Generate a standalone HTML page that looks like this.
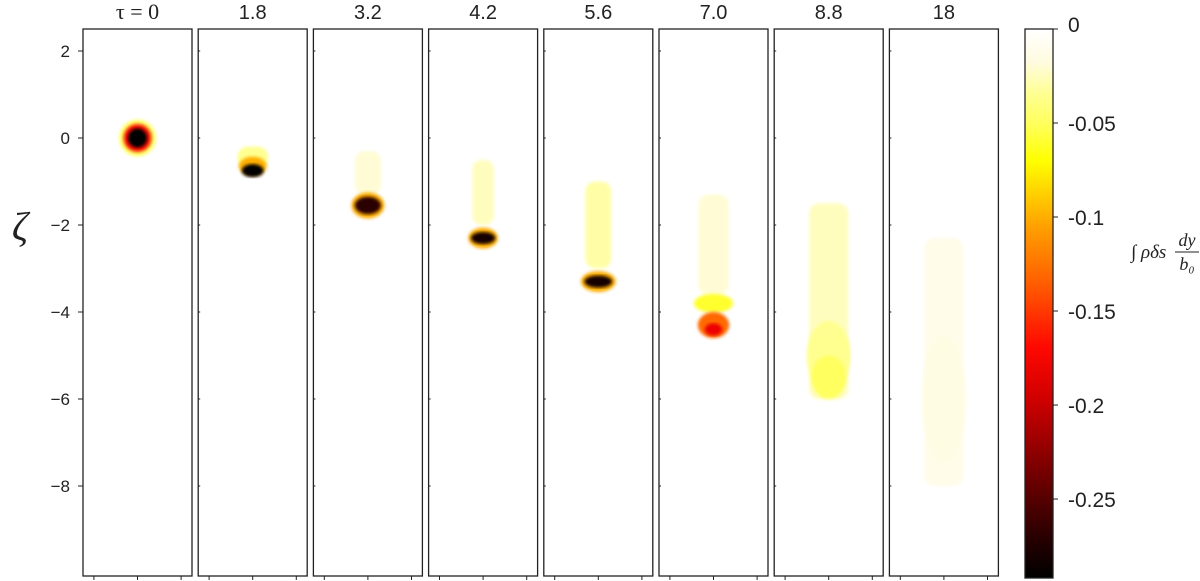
<!DOCTYPE html>
<html><head><meta charset="utf-8"><style>
body{margin:0;background:#fff;width:1200px;height:581px;overflow:hidden}
svg{display:block}
text{font-family:"Liberation Sans",sans-serif;fill:#222}
</style></head><body>
<svg id="fig" width="1200" height="581" viewBox="0 0 1200 581">
<defs>
<linearGradient id="cbar" x1="0" y1="0" x2="0" y2="1">
<stop offset="0" stop-color="#ffffff"/><stop offset="0.06" stop-color="#fffbe0"/>
<stop offset="0.12" stop-color="#ffff90"/><stop offset="0.17" stop-color="#ffff60"/>
<stop offset="0.24" stop-color="#ffff00"/><stop offset="0.3" stop-color="#ffd000"/>
<stop offset="0.36" stop-color="#ffa000"/><stop offset="0.46" stop-color="#ff6000"/>
<stop offset="0.58" stop-color="#ff0800"/><stop offset="0.68" stop-color="#cc0000"/>
<stop offset="0.84" stop-color="#600000"/><stop offset="0.94" stop-color="#200000"/>
<stop offset="1" stop-color="#000000"/>
</linearGradient>
<filter id="blur1"><feGaussianBlur stdDeviation="1.5"/></filter>
</defs>
<g id="panels"></g>
<g id="cb"></g>
<text x="20" y="240" font-size="40" text-anchor="middle" style="font-family:'Liberation Serif',serif;font-style:italic">ζ</text>
</svg>
<script>
const titles=["τ = 0","1.8","3.2","4.2","5.6","7.0","8.8","18"];
const yTicks=[2,0,-2,-4,-6,-8];
const cbTicks=[0,-0.05,-0.1,-0.15,-0.2,-0.25];
// tails
const tailPanel=[1,2,3,4,5,6,7];
const tailTop=[-0.2,-0.3,-0.5,-1.0,-1.3,-1.5,-2.3];
const tailBot=[-0.7,-1.3,-2.0,-3.0,-3.6,-6.0,-8.0];
const tailW=[0.35,0.3,0.25,0.3,0.35,0.45,0.45];
const tailVal=[-0.035,-0.02,-0.025,-0.03,-0.02,-0.025,-0.012];
// blobs
const blobPanel=[0,0,0,1,1,2,2,3,3,4,4,5,5,5,6,6,7];
const blobZeta=[0,0,0,-0.65,-0.75,-1.55,-1.55,-2.3,-2.3,-3.3,-3.3,-3.8,-4.3,-4.4,-5.0,-5.5,-6.0];
const blobRx=[0.42,0.32,0.22,0.32,0.25,0.38,0.3,0.34,0.28,0.4,0.32,0.45,0.36,0.2,0.5,0.4,0.5];
const blobRy=[0.42,0.32,0.22,0.22,0.15,0.3,0.2,0.24,0.14,0.24,0.14,0.22,0.3,0.14,0.8,0.5,1.5];
const blobVal=[-0.05,-0.17,-0.29,-0.1,-0.29,-0.1,-0.27,-0.1,-0.28,-0.1,-0.28,-0.06,-0.13,-0.18,-0.035,-0.05,-0.015];

const NS="http://www.w3.org/2000/svg";
const panelX0=83,panelW=109,panelStep=115.2,panelTop=29,panelBot=576;
const yOf=z=>138-43.5*z;
const ux=43.5;
const px=i=>panelX0+i*panelStep;
const cbTop=29,cbBot=578,cbMin=-0.292;
const cbY=v=>cbTop+(v/cbMin)*(cbBot-cbTop);
function color(v){
  const t=Math.min(1,Math.max(0,v/cbMin));
  const st=[[0,255,255,255],[0.06,255,251,224],[0.12,255,255,144],[0.17,255,255,96],[0.24,255,255,0],[0.3,255,208,0],[0.36,255,160,0],[0.46,255,96,0],[0.58,255,8,0],[0.68,204,0,0],[0.84,96,0,0],[0.94,32,0,0],[1,0,0,0]];
  for(let k=1;k<st.length;k++){if(t<=st[k][0]){const a=st[k-1],b=st[k],f=(t-a[0])/(b[0]-a[0]);
    return `rgb(${[1,2,3].map(j=>Math.round(a[j]+(b[j]-a[j])*f)).join(',')})`;}}
  return "#000";
}
function el(tag,attrs,parent){const e=document.createElementNS(NS,tag);for(const k in attrs)e.setAttribute(k,attrs[k]);parent.appendChild(e);return e;}
const gp=document.getElementById('panels');
titles.forEach((t,i)=>{
  const x=px(i);
  const g=el('g',{},gp);
  
  
  el('rect',{x:x,y:panelTop,width:panelW,height:panelBot-panelTop,fill:'#fff'},g);
  const cx=x+panelW/2;
  tailPanel.forEach((p,k)=>{if(p!==i)return;
    const r=el('rect',{x:cx-tailW[k]*ux,y:yOf(tailTop[k]),width:2*tailW[k]*ux,height:yOf(tailBot[k])-yOf(tailTop[k]),rx:10,fill:color(tailVal[k]),filter:'url(#blur1)'},g);
    
    
  });
  blobPanel.forEach((p,k)=>{if(p!==i)return;
    const e=el('ellipse',{cx:cx,cy:yOf(blobZeta[k]),rx:blobRx[k]*ux,ry:blobRy[k]*ux,fill:color(blobVal[k]),filter:'url(#blur1)'},g);
    
    
  });
  el('rect',{x:x,y:panelTop,width:panelW,height:panelBot-panelTop,fill:'none',stroke:'#222','stroke-width':1.3},g);
  yTicks.forEach(v=>el('line',{x1:x-(i===0?5:0),x2:x+(i===0?0:2),y1:yOf(v),y2:yOf(v),stroke:'#222'},g));
  [0.1,0.5,0.9].forEach(f=>el('line',{x1:x+f*panelW,x2:x+f*panelW,y1:panelBot,y2:panelBot+4,stroke:'#222'},g));
  const tt=el('text',{x:cx,y:19,'font-size':i===0?22:20,'text-anchor':'middle'},g);
  if(i===0){tt.setAttribute('style',"font-family:'Liberation Serif',serif");}
  tt.textContent=t;
  
  
});
yTicks.forEach(v=>{const t=el('text',{x:70,y:yOf(v)+6,'font-size':17,'text-anchor':'end'},gp);t.textContent=v<0?'−'+(-v):String(v);
  
  });
const cb=document.getElementById('cb');
const bar=el('rect',{x:1025,y:cbTop,width:28,height:cbBot-cbTop,fill:'url(#cbar)',stroke:'#222','stroke-width':1.3},cb);


cbTicks.forEach(v=>{const y=cbY(v);
  el('line',{x1:1053,x2:1058,y1:y,y2:y,stroke:'#222'},cb);
  const t=el('text',{x:1068,y:y+(v===0?3:8),'font-size':21},cb);t.textContent=String(v);
  
  });
const lab=el('text',{x:1131,y:258,'font-size':19,style:"font-family:'Liberation Serif',serif;font-style:italic"},cb);
lab.textContent='∫ ρδs';


const f1=el('text',{x:1187,y:246,'font-size':18,'text-anchor':'middle',style:"font-family:'Liberation Serif',serif;font-style:italic"},cb);f1.textContent='dy';


el('line',{x1:1175,x2:1199,y1:252,y2:252,stroke:'#222'},cb);
const f2=el('text',{x:1187,y:270,'font-size':18,'text-anchor':'middle',style:"font-family:'Liberation Serif',serif;font-style:italic"},cb);f2.textContent='b₀';


</script>
</body></html>
